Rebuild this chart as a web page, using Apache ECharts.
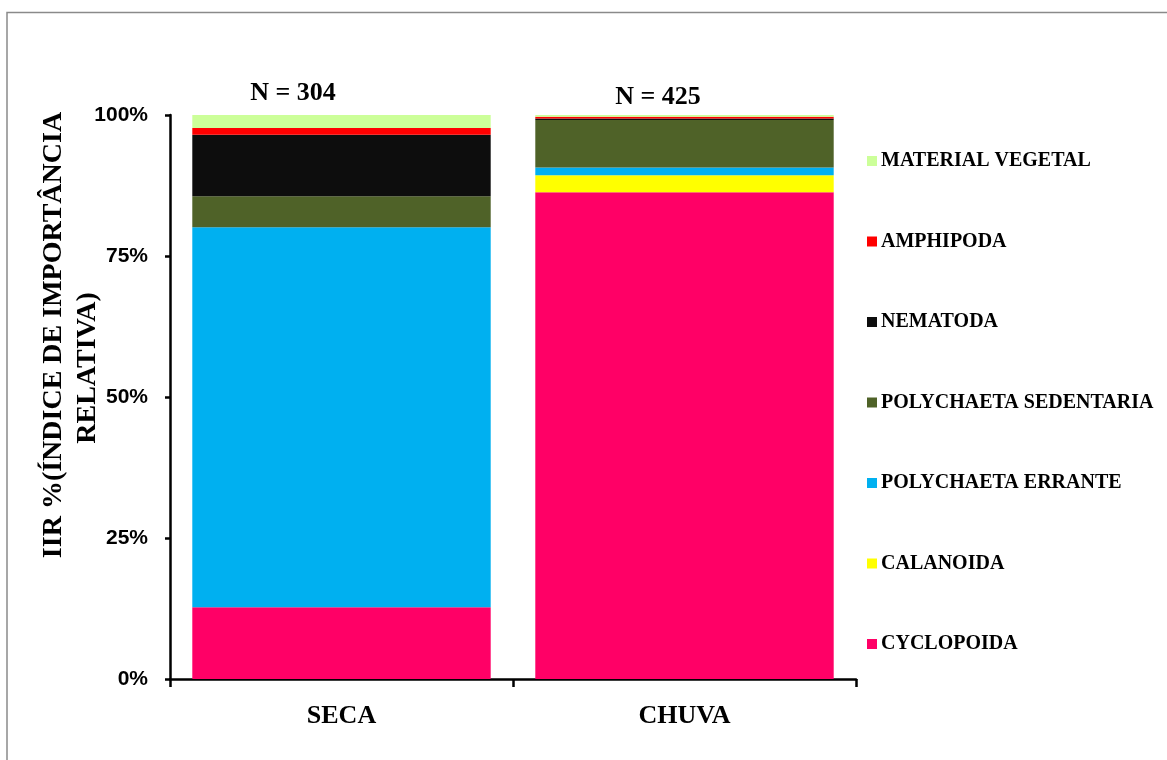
<!DOCTYPE html>
<html>
<head>
<meta charset="utf-8">
<script src="https://cdn.jsdelivr.net/npm/echarts@6/dist/echarts.min.js"></script>
<style>
  html, body { margin: 0; padding: 0; background: #fff; }
  #chart { width: 1167px; height: 760px; }
</style>
</head>
<body>
<div id="chart"></div>
<script>
// Seasons on the x axis
const seasons = ['SECA', 'CHUVA'];
// Sample sizes shown above each bar
const sampleSizes = [304, 425];

// IIR % per prey group (SECA, CHUVA), stacked bottom to top
const cyclopoida = [12.7, 86.3];
const calanoida = [0, 3.0];
const polychaetaErrante = [67.4, 1.4];
const polychaetaSedentaria = [5.5, 8.4];
const nematoda = [10.9, 0.3];
const amphipoda = [1.2, 0.3];
const materialVegetal = [2.3, 0.3];

const yTicks = [0, 25, 50, 75, 100];

const groups = [
  { name: 'CYCLOPOIDA', data: cyclopoida, color: '#FF0066' },
  { name: 'CALANOIDA', data: calanoida, color: '#FFFF00' },
  { name: 'POLYCHAETA ERRANTE', data: polychaetaErrante, color: '#00B0F0' },
  { name: 'POLYCHAETA SEDENTARIA', data: polychaetaSedentaria, color: '#4F6228' },
  { name: 'NEMATODA', data: nematoda, color: '#0D0D0D' },
  { name: 'AMPHIPODA', data: amphipoda, color: '#FF0000' },
  { name: 'MATERIAL VEGETAL', data: materialVegetal, color: '#CCFF99' }
];

const serif = '"Liberation Serif", "Times New Roman", serif';
const sans = '"Liberation Sans", Arial, sans-serif';

const chart = echarts.init(document.getElementById('chart'), null, { renderer: 'canvas' });

const option = {
  backgroundColor: '#ffffff',
  animation: false,
  grid: { left: 170, right: 311, top: 115, bottom: 81, containLabel: false },
  legend: {
    orient: 'vertical',
    left: 862,
    top: 146,
    itemWidth: 10,
    itemHeight: 10,
    itemGap: 60.5,
    icon: 'rect',
    data: groups.map(g => g.name).reverse(),
    textStyle: {
      fontFamily: serif, fontWeight: 'bold', fontSize: 20, color: '#000',
      lineHeight: 20, padding: [0, 0, 0, -1]
    }
  },
  xAxis: {
    type: 'category',
    data: seasons,
    axisLine: { lineStyle: { color: '#000', width: 2.5 } },
    axisTick: { show: true, length: 8, lineStyle: { color: '#000', width: 2.5 } },
    axisLabel: {
      margin: 24, color: '#000', fontFamily: serif, fontWeight: 'bold', fontSize: 26
    }
  },
  yAxis: {
    type: 'value',
    min: yTicks[0],
    max: yTicks[yTicks.length - 1],
    interval: yTicks[1] - yTicks[0],
    splitLine: { show: false },
    axisLine: { show: true, lineStyle: { color: '#000', width: 2.5 } },
    axisTick: { show: true, length: 5, lineStyle: { color: '#000', width: 2.5 } },
    axisLabel: {
      margin: 22, color: '#000', fontFamily: sans, fontWeight: 'bold', fontSize: 21,
      formatter: v => v + '%'
    }
  },
  series: groups.map(g => ({
    name: g.name,
    type: 'bar',
    stack: 'iir',
    barCategoryGap: '13%',
    data: g.data,
    itemStyle: { color: g.color },
    emphasis: { disabled: true }
  })),
  graphic: [
    {
      type: 'rect',
      shape: { x: 7, y: 12.5, width: 1300, height: 900 },
      style: { fill: 'none', stroke: '#8a8a8a', lineWidth: 1.5 },
      silent: true
    },
    {
      type: 'text',
      x: 54, y: 335, rotation: Math.PI / 2,
      style: {
        text: 'IIR %(ÍNDICE DE IMPORTÂNCIA',
        font: 'bold 28px ' + serif, fill: '#000',
        align: 'center', verticalAlign: 'middle'
      }
    },
    {
      type: 'text',
      x: 88, y: 368, rotation: Math.PI / 2,
      style: {
        text: 'RELATIVA)',
        font: 'bold 28px ' + serif, fill: '#000',
        align: 'center', verticalAlign: 'middle'
      }
    },
    {
      type: 'text',
      x: 293, y: 93,
      style: {
        text: 'N = ' + sampleSizes[0],
        font: 'bold 26px ' + serif, fill: '#000',
        align: 'center', verticalAlign: 'middle'
      }
    },
    {
      type: 'text',
      x: 658, y: 97,
      style: {
        text: 'N = ' + sampleSizes[1],
        font: 'bold 26px ' + serif, fill: '#000',
        align: 'center', verticalAlign: 'middle'
      }
    }
  ]
};

chart.setOption(option);
</script>
</body>
</html>
